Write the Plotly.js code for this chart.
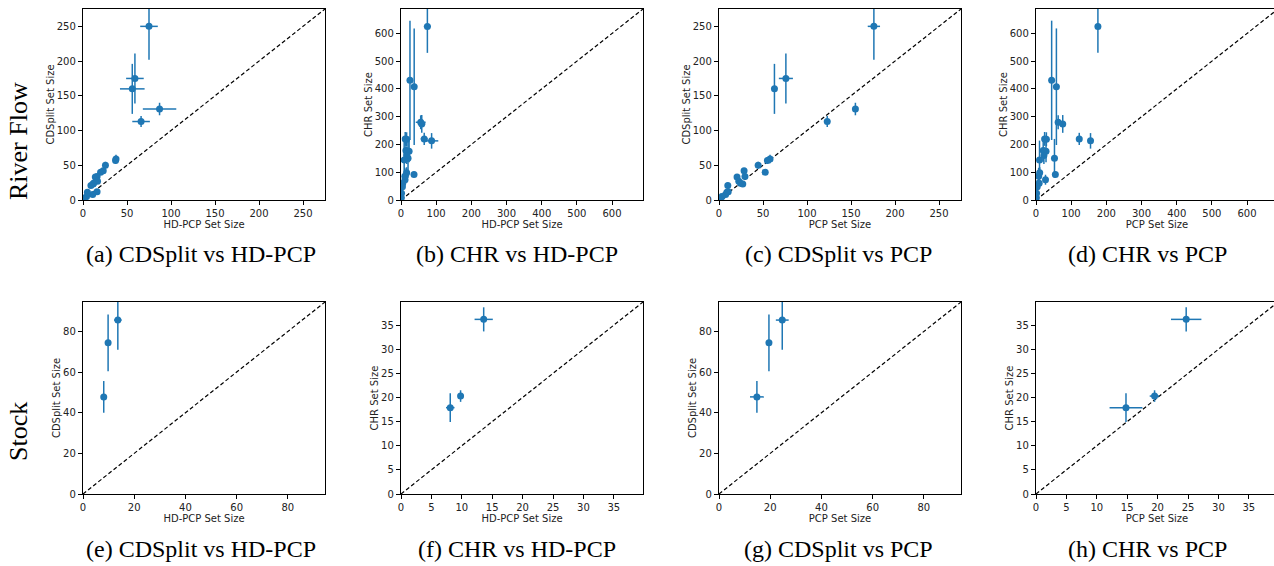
<!DOCTYPE html>
<html>
<head>
<meta charset="utf-8">
<script src="https://cdn.plot.ly/plotly-3.0.1.min.js"></script>
<style>
  html, body { margin: 0; padding: 0; background: #fff; overflow: hidden; }
  #chart { width: 1280px; height: 566px; }
</style>
</head>
<body>
<div id="chart"></div>
<script>
// ---------------- River Flow data (mean set sizes and error half-widths) ----------------
const riverHD     = [75, 87, 66, 59, 56, 37.5, 37, 25.5, 20, 23, 16, 14, 16.5, 12, 11.5, 9, 16, 11, 5, 4, 1.5, 1];
const riverPCP    = [176, 155, 123, 76, 63, 58, 55, 44.5, 52.5, 28.5, 29.5, 20.5, 22.5, 24.5, 27, 10, 10.5, 7.5, 9, 3.5, 1.5, 1];
const riverCDS    = [250, 131, 113, 175, 160, 59, 57, 50, 40, 42, 34, 33, 27, 24, 23, 21, 12, 8, 11, 5, 2, 1];
const riverCHR    = [625, 213, 220, 274, 280, 408, 92, 431, 150, 176, 219, 178, 160, 220, 73, 144, 98, 86, 60, 48, 24, 8];
const riverHDErr  = [10, 19, 10, 10, 14, 2, 2, 2, 2, 3, 2, 2, 3, 2, 2, 2, 2, 2, 2, 2, 1, 0.5];
const riverPCPErr = [7, 2, 3, 8, 1.5, 2, 2, 2, 1.5, 2, 1.5, 2, 2, 2, 2, 1, 1, 1, 1, 1, 1, 0.5];
const riverCDSErr = [48, 9, 8, 36, 36, 6, 5, 5, 3, 4, 3, 4, 4, 3, 3, 4, 3, 2, 3, 2, 1, 1];
const riverCHRErr = [95, 28, 22, 32, 25, 210, 10, 215, 70, 40, 25, 40, 30, 25, 18, 70, 20, 30, 20, 25, 25, 8];

// ---------------- Stock data ----------------
const stockHD     = [8.1, 9.8, 13.6];
const stockPCP    = [14.8, 19.5, 24.7];
const stockCDS    = [47.8, 74.4, 85.6];
const stockCHR    = [17.9, 20.3, 36.2];
const stockHDErr  = [0.7, 0.4, 1.5];
const stockPCPErr = [2.7, 0.8, 2.5];
const stockCDSErr = [7.8, 14, 14.6];
const stockCHRErr = [3.0, 1.2, 2.5];

// ---------------- Labels ----------------
const rowLabels = ["River Flow", "Stock"];
const captions = [
  "(a) CDSplit vs HD-PCP", "(b) CHR vs HD-PCP", "(c) CDSplit vs PCP", "(d) CHR vs PCP",
  "(e) CDSplit vs HD-PCP", "(f) CHR vs HD-PCP", "(g) CDSplit vs PCP", "(h) CHR vs PCP"
];
const xTitles = ["HD-PCP Set Size", "HD-PCP Set Size", "PCP Set Size", "PCP Set Size"];
const yTitles = ["CDSplit Set Size", "CHR Set Size", "CDSplit Set Size", "CHR Set Size"];
const riverRanges = [275, 688, 275, 688];
const stockRanges = [94.5, 39.8, 94.5, 39.8];
const riverDticks = [50, 100, 50, 100];
const stockDticks = [20, 5, 20, 5];

// ---------------- Layout geometry (px) ----------------
const W = 1280, H = 566;
const colX = [[83, 325], [401, 643], [719, 961], [1036, 1278]];
const rowY = [[9, 200], [302, 494]];
const capX = [201, 517, 838, 1147];
const capY = [254, 549];

const blue = '#1f77b4';
const traces = [];
const layout = {
  width: W, height: H,
  margin: {l: 0, r: 0, t: 0, b: 0},
  paper_bgcolor: '#fff', plot_bgcolor: '#fff',
  showlegend: false,
  font: {family: 'DejaVu Sans', size: 10, color: '#222'},
  annotations: []
};

const panels = [
  // row 0 (River Flow)
  {x: riverHD,  y: riverCDS, ex: riverHDErr,  ey: riverCDSErr},
  {x: riverHD,  y: riverCHR, ex: riverHDErr,  ey: riverCHRErr},
  {x: riverPCP, y: riverCDS, ex: riverPCPErr, ey: riverCDSErr},
  {x: riverPCP, y: riverCHR, ex: riverPCPErr, ey: riverCHRErr},
  // row 1 (Stock)
  {x: stockHD,  y: stockCDS, ex: stockHDErr,  ey: stockCDSErr},
  {x: stockHD,  y: stockCHR, ex: stockHDErr,  ey: stockCHRErr},
  {x: stockPCP, y: stockCDS, ex: stockPCPErr, ey: stockCDSErr},
  {x: stockPCP, y: stockCHR, ex: stockPCPErr, ey: stockCHRErr}
];

panels.forEach((p, i) => {
  const row = Math.floor(i / 4), col = i % 4;
  const n = i + 1;
  const xa = 'x' + (n === 1 ? '' : n), ya = 'y' + (n === 1 ? '' : n);
  const xkey = 'xaxis' + (n === 1 ? '' : n), ykey = 'yaxis' + (n === 1 ? '' : n);
  const R = row === 0 ? riverRanges[col] : stockRanges[col];
  const dt = row === 0 ? riverDticks[col] : stockDticks[col];

  // diagonal reference y = x
  traces.push({
    type: 'scatter', mode: 'lines', x: [0, R], y: [0, R],
    xaxis: xa, yaxis: ya, hoverinfo: 'skip',
    line: {color: '#000', width: 1.2, dash: '4px,2.5px'}
  });
  // data with error bars
  traces.push({
    type: 'scatter', mode: 'markers', x: p.x, y: p.y,
    xaxis: xa, yaxis: ya,
    marker: {color: blue, size: 7},
    error_x: {type: 'data', array: p.ex, visible: true, color: blue, thickness: 1.5, width: 0},
    error_y: {type: 'data', array: p.ey, visible: true, color: blue, thickness: 1.5, width: 0}
  });

  const axCommon = {
    showgrid: false, zeroline: false,
    showline: true, mirror: true, linecolor: '#000', linewidth: 1.2,
    ticks: 'outside', ticklen: 4, tickwidth: 1, tickcolor: '#000',
    tickfont: {family: 'DejaVu Sans', size: 10, color: '#222'},
    range: [0, R], dtick: dt, tick0: 0, fixedrange: true
  };
  layout[xkey] = Object.assign({}, axCommon, {
    domain: [colX[col][0] / W, colX[col][1] / W],
    anchor: ya,
    title: {text: xTitles[col], font: {family: 'DejaVu Sans', size: 10, color: '#222'}, standoff: 0}
  });
  layout[ykey] = Object.assign({}, axCommon, {
    domain: [1 - rowY[row][1] / H, 1 - rowY[row][0] / H],
    anchor: xa,
    title: {text: yTitles[col], font: {family: 'DejaVu Sans', size: 10, color: '#222'}, standoff: 0}
  });

  layout.annotations.push({
    text: captions[i], xref: 'paper', yref: 'paper',
    x: capX[col] / W, y: 1 - capY[row] / H,
    xanchor: 'center', yanchor: 'middle', showarrow: false,
    font: {family: 'Liberation Serif', size: 24, color: '#000'}
  });
});

// row labels
const rowLabelY = [141, 432];
rowLabels.forEach((t, r) => {
  layout.annotations.push({
    text: t, xref: 'paper', yref: 'paper',
    x: 18 / W, y: 1 - rowLabelY[r] / H,
    xanchor: 'center', yanchor: 'middle', textangle: -90, showarrow: false,
    font: {family: 'Liberation Serif', size: 26, color: '#000'}
  });
});

Plotly.newPlot('chart', traces, layout, {displayModeBar: false, staticPlot: true});
</script>
</body>
</html>
